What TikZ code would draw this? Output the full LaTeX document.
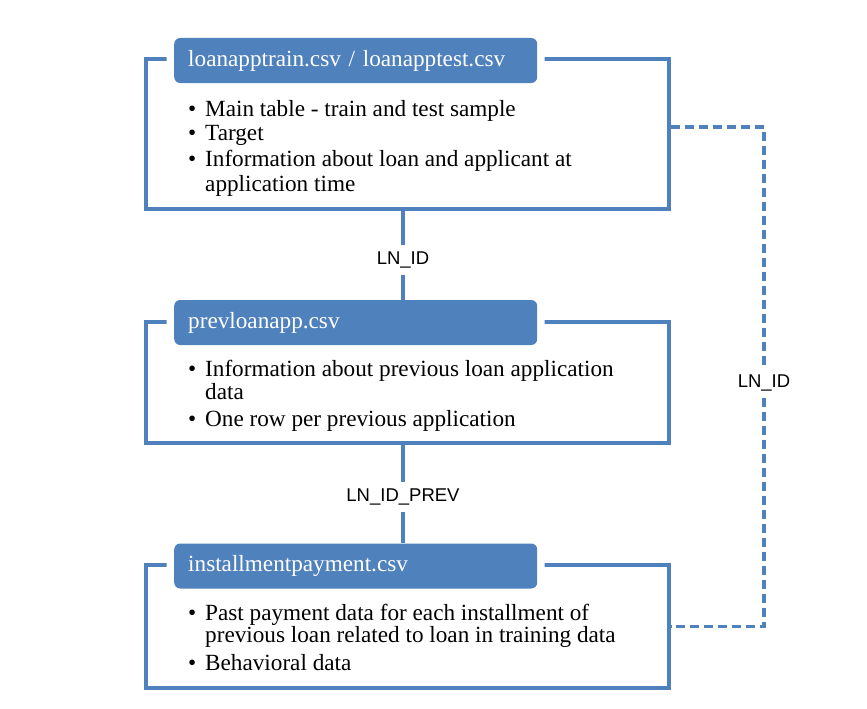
\documentclass[tikz,border=0pt]{standalone}
\usepackage{fontspec}
\setmainfont{Liberation Serif}
\newfontfamily\keyfont{Liberation Sans}
\usetikzlibrary{positioning}

\definecolor{tabblue}{RGB}{79,129,189}

\newcommand{\itm}{\makebox[17pt][l]{\textbullet}}
\newcommand{\cnt}{\hspace*{17pt}}

\tikzset{
  frame/.style={draw=tabblue, line width=3.2pt, minimum width=523pt, inner sep=0pt},
  tabbox/.style={fill=tabblue, preaction={draw=white, line width=15pt},
    rounded corners=6pt, minimum width=363pt, minimum height=45pt,
    text width=335pt, inner xsep=14pt, align=left, text=white,
    font=\fontsize{23.2}{25}\selectfont},
  body/.style={anchor=north west, align=left, inner sep=0pt,
    font=\fontsize{23.2}{23}\selectfont},
  link/.style={draw=tabblue, line width=3.2pt},
  dashlink/.style={draw=tabblue, line width=3.2pt, dash pattern=on 9pt off 5pt},
  keylabel/.style={fill=white, inner sep=7pt, font=\keyfont\fontsize{18.5}{20}\selectfont}
}

\begin{document}
\begin{tikzpicture}[x=1pt, y=1pt]
            \useasboundingbox (0,0) rectangle (867,-709);

            % Nodes
            \node[frame, minimum height=150pt] (train_frame) at (407.5,-134) {};
            \node[frame, minimum height=121pt] (prev_frame) at (407.5,-382.5) {};
            \node[frame, minimum height=123pt] (inst_frame) at (407.5,-626.5) {};

            \node[tabbox, anchor=west] (train_tab) at (174,-60.5) {loanapptrain.csv / loanapptest.csv};
            \node[tabbox, anchor=west] (prev_tab) at (174,-322.5) {prevloanapp.csv};
            \node[tabbox, anchor=west] (inst_tab) at (174,-566) {installmentpayment.csv};

            \node[body] (train_body) at (188,-100) {\itm Main table - train and test sample\\[1.5pt]
              \itm Target\\[3pt]
              \itm Information about loan and applicant at\\[1.5pt]
              \cnt application time};
            \node[body] (prev_body) at (188,-360) {\itm Information about previous loan application\\[-0.5pt]
              \cnt data\\[4.5pt]
              \itm One row per previous application};
            \node[body] (inst_body) at (188,-604) {\itm Past payment data for each installment of\\[-1pt]
              \cnt previous loan related to loan in training data\\[5pt]
              \itm Behavioral data};

            % Arrows
            \coordinate (train_link) at (403,-260);
            \coordinate (prev_link) at (403,-497);
            \coordinate (inst_link) at (764,-383);

            \draw[link] (train_link |- train_frame.south) -- (train_link |- prev_tab.north);
            \draw[link] (prev_link |- prev_frame.south) -- (prev_link |- inst_tab.north);
            \draw[dashlink] ([yshift=7pt]train_frame.east) -| (inst_link) |- (inst_frame.east);

            \node[keylabel] (train_key) at (train_link) {LN\_ID};
            \node[keylabel] (prev_key) at (prev_link) {LN\_ID\_PREV};
            \node[keylabel] (inst_key) at (inst_link) {LN\_ID};
        \end{tikzpicture}
\end{document}
